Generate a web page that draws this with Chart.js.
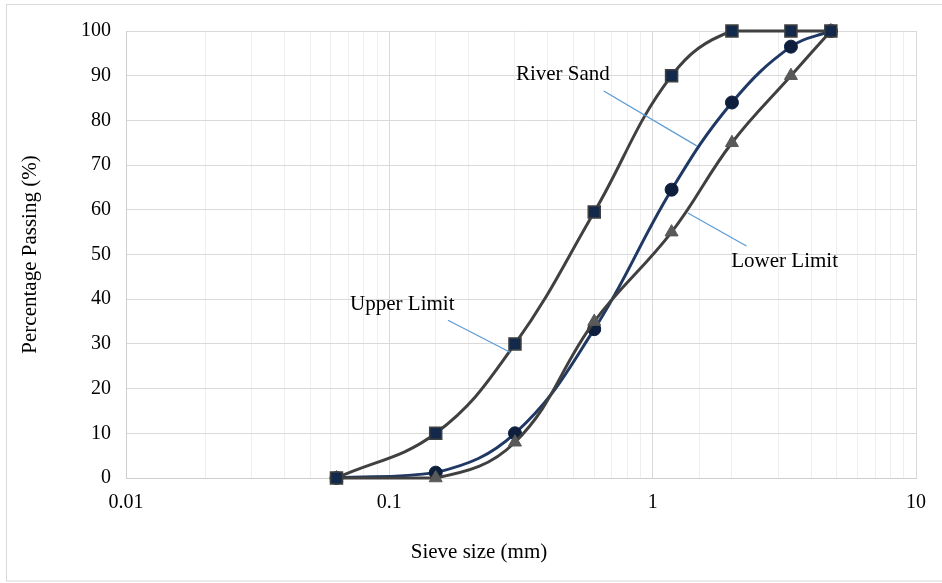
<!DOCTYPE html>
<html>
<head>
<meta charset="utf-8">
<script src="https://cdn.jsdelivr.net/npm/chart.js@4"></script>
<style>
  html, body { margin: 0; padding: 0; background: #ffffff; }
  #wrap { width: 942px; height: 583px; position: relative; }
</style>
</head>
<body>
<div id="wrap"><canvas id="c" width="942" height="583"></canvas></div>
<script>
// ---- data ----
const sieveSizes = [0.063, 0.15, 0.3, 0.6, 1.18, 2, 3.35, 4.75];
const upperLimit = [0, 10, 30, 59.5, 90, 100, 100, 100];
const riverSand  = [0, 1.2, 10, 33.3, 64.5, 84, 96.5, 100];
const lowerLimit = [0, 0, 8, 35, 55, 75, 90, 100];

const seriesNames = ['Upper Limit', 'Lower Limit', 'River Sand'];
const xTickLabels = ['0.01', '0.1', '1', '10'];
const yTicks = [0, 10, 20, 30, 40, 50, 60, 70, 80, 90, 100];

const xTitle = 'Sieve size (mm)';
const yTitle = 'Percentage Passing (%)';

// annotation callouts (in data units)
const calloutText = ['River Sand', 'Upper Limit', 'Lower Limit'];
const calloutX = [0.456, 0.112, 3.17];
const calloutY = [90.2, 38.9, 48.5];
const leaderX1 = [0.652, 0.167, 1.36];
const leaderY1 = [86.6, 35.3, 59.3];
const leaderX2 = [1.47, 0.29, 2.27];
const leaderY2 = [74.3, 28.0, 51.9];

const FONT = '"Liberation Serif", "Times New Roman", serif';

function pts(ys) { return sieveSizes.map((x, i) => ({ x: x, y: ys[i] })); }

const isMajor = v => { const l = Math.log10(v); return Math.abs(l - Math.round(l)) < 1e-6; };

const framePlugin = {
  id: 'frame',
  beforeDraw(chart) {
    const ctx = chart.ctx;
    ctx.save();
    ctx.fillStyle = '#ffffff';
    ctx.fillRect(0, 0, chart.width, chart.height);
    ctx.strokeStyle = '#d9d9d9';
    ctx.lineWidth = 1;
    ctx.strokeRect(6.5, 4.5, 945, 576.5);
    ctx.restore();
  }
};

const calloutPlugin = {
  id: 'callouts',
  afterDraw(chart) {
    const ctx = chart.ctx;
    const xs = chart.scales.x, ys = chart.scales.y;
    ctx.save();
    ctx.strokeStyle = '#5b9bd5';
    ctx.lineWidth = 1.2;
    for (let i = 0; i < calloutText.length; i++) {
      ctx.beginPath();
      ctx.moveTo(xs.getPixelForValue(leaderX1[i]), ys.getPixelForValue(leaderY1[i]));
      ctx.lineTo(xs.getPixelForValue(leaderX2[i]), ys.getPixelForValue(leaderY2[i]));
      ctx.stroke();
    }
    ctx.fillStyle = '#000000';
    ctx.font = '21px ' + FONT;
    ctx.textAlign = 'center';
    ctx.textBaseline = 'middle';
    for (let i = 0; i < calloutText.length; i++) {
      ctx.fillText(calloutText[i], xs.getPixelForValue(calloutX[i]), ys.getPixelForValue(calloutY[i]));
    }
    // x-axis title
    ctx.font = '21px ' + FONT;
    ctx.fillText(xTitle, 479, 552);
    ctx.restore();
  }
};

new Chart(document.getElementById('c'), {
  type: 'line',
  data: {
    datasets: [
      {
        label: seriesNames[0],
        data: pts(upperLimit),
        borderColor: '#404040',
        borderWidth: 3,
        pointStyle: 'rect',
        pointRadius: 8.5,
        pointBackgroundColor: '#13294b',
        pointBorderColor: '#404040',
        pointBorderWidth: 1.5,
        tension: 0.4,
        clip: 12,
        fill: false
      },
      {
        label: seriesNames[1],
        data: pts(lowerLimit),
        borderColor: '#404040',
        borderWidth: 3,
        pointStyle: 'triangle',
        pointRadius: 7.5,
        pointBackgroundColor: '#595959',
        pointBorderColor: '#595959',
        pointBorderWidth: 1,
        tension: 0.4,
        clip: 12,
        fill: false
      },
      {
        label: seriesNames[2],
        data: pts(riverSand),
        borderColor: '#1f3864',
        borderWidth: 3,
        pointStyle: 'circle',
        pointRadius: 6.5,
        pointBackgroundColor: '#0d1f3c',
        pointBorderColor: '#0d1f3c',
        pointBorderWidth: 1,
        tension: 0.4,
        clip: 12,
        fill: false
      }
    ]
  },
  options: {
    responsive: false,
    animation: false,
    events: [],
    layout: { padding: { top: 31, right: 26, bottom: 0, left: 0 } },
    plugins: {
      legend: { display: false },
      tooltip: { enabled: false }
    },
    scales: {
      x: {
        type: 'logarithmic',
        min: 0.01,
        max: 10,
        afterFit(scale) { scale.height = 105; },
        border: { color: '#cfcfcf', width: 1 },
        grid: {
          drawTicks: false,
          color: ctx => isMajor(ctx.tick.value) ? '#d9d9d9' : '#eeeeee',
          lineWidth: 1
        },
        ticks: {
          autoSkip: false,
          maxRotation: 0,
          minRotation: 0,
          padding: 13,
          color: '#000000',
          font: { family: FONT, size: 20 },
          callback(v) {
            if (!isMajor(v)) return '';
            const idx = Math.round(Math.log10(v)) + 2;
            return xTickLabels[idx] !== undefined ? xTickLabels[idx] : '';
          }
        }
      },
      y: {
        min: 0,
        max: 100,
        afterFit(scale) { scale.width = 126; },
        afterBuildTicks(scale) { scale.ticks = yTicks.map(v => ({ value: v })); },
        border: { color: '#cfcfcf', width: 1 },
        grid: { drawTicks: false, color: '#d9d9d9', lineWidth: 1 },
        title: {
          display: true,
          text: yTitle,
          color: '#000000',
          font: { family: FONT, size: 21 },
          padding: { top: 18, bottom: 0 }
        },
        ticks: {
          padding: 15,
          color: '#000000',
          font: { family: FONT, size: 20 },
          callback: v => String(v)
        }
      }
    }
  },
  plugins: [framePlugin, calloutPlugin]
});
</script>
</body>
</html>
